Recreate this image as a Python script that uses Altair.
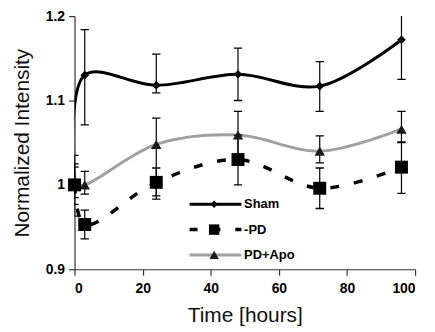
import altair as alt
import pandas as pd

time = [0, 3, 24, 48, 72, 96]

sham = [1.0, 1.13, 1.118, 1.131, 1.117, 1.172]
sham_lo = [0.977, 1.071, 1.109, 1.100, 1.087, 1.125]
sham_hi = [1.025, 1.184, 1.155, 1.162, 1.146, 1.215]

pd_vals = [1.0, 0.953, 1.003, 1.030, 0.996, 1.021]
pd_lo = [0.963, 0.936, 0.983, 1.0, 0.972, 0.990]
pd_hi = [1.021, 0.970, 1.020, 1.059, 1.020, 1.050]

apo = [1.0, 1.0, 1.048, 1.059, 1.040, 1.066]
apo_lo = [0.985, 0.989, 0.987, 1.030, 1.026, 1.051]
apo_hi = [1.035, 1.016, 1.079, 1.087, 1.058, 1.087]

legend_names = ["Sham", "-PD", "PD+Apo"]
legend_y = [0.977, 0.947, 0.917]
legend_x0, legend_xm, legend_x1, legend_xt = 33.8, 41.0, 49.0, 49.8

FONT = "Liberation Sans"


def frame(v, lo, hi):
    return pd.DataFrame({"time": time, "value": v, "lo": lo, "hi": hi})


d_sham = frame(sham, sham_lo, sham_hi)
d_pd = frame(pd_vals, pd_lo, pd_hi)
d_apo = frame(apo, apo_lo, apo_hi)

xs = alt.Scale(domain=[0, 100], nice=False)
ys = alt.Scale(domain=[0.9, 1.2], nice=False)

X = alt.X("time:Q", scale=xs,
          axis=alt.Axis(values=[0, 20, 40, 60, 80, 100], title="Time [hours]"))
Y = alt.Y("value:Q", scale=ys,
          axis=alt.Axis(values=[0.9, 1.0, 1.1, 1.2], format=".1~f",
                        title="Normalized Intensity"))


def line(d, **kw):
    return alt.Chart(d).mark_line(interpolate="catmull-rom", clip=True, **kw).encode(x=X, y=Y)


def errs(d):
    base = alt.Chart(d)
    r = base.mark_rule(color="black", strokeWidth=1.2, clip=True).encode(
        x=alt.X("time:Q", scale=xs), y=alt.Y("lo:Q", scale=ys), y2="hi:Q")
    t1 = base.mark_point(shape="stroke", size=70, strokeWidth=1.3, color="black",
                         clip=True, opacity=1).encode(
        x=alt.X("time:Q", scale=xs), y=alt.Y("lo:Q", scale=ys))
    t2 = base.mark_point(shape="stroke", size=70, strokeWidth=1.3, color="black",
                         clip=True, opacity=1).encode(
        x=alt.X("time:Q", scale=xs), y=alt.Y("hi:Q", scale=ys))
    return r + t1 + t2


def pts(d, shape, size, color="black"):
    return alt.Chart(d).mark_point(shape=shape, size=size, filled=True, color=color,
                                   opacity=1).encode(x=X, y=Y)


layers = [
    line(d_apo, color="#a0a0a0", strokeWidth=3),
    line(d_pd, color="black", strokeWidth=3.5, strokeDash=[9, 15]),
    line(d_sham, color="black", strokeWidth=3),
    errs(d_apo), errs(d_pd), errs(d_sham),
    pts(d_apo, "triangle-up", 110, "#1a1a1a"),
    pts(d_pd, "square", 170),
    pts(d_sham, "diamond", 75),
]

# legend
leg = pd.DataFrame({"name": legend_names, "y": legend_y,
                    "x0": [legend_x0] * 3, "x1": [legend_x1] * 3,
                    "xm": [legend_xm] * 3, "xt": [legend_xt] * 3})
styles = [
    dict(color="black", strokeWidth=3, shape="diamond", size=55, mcolor="black"),
    dict(color="black", strokeWidth=3.5, strokeDash=[8, 15], shape="square", size=110, mcolor="black"),
    dict(color="#a0a0a0", strokeWidth=3, shape="triangle-up", size=90, mcolor="#1a1a1a"),
]
for i, st in enumerate(styles):
    sub = leg.iloc[[i]]
    rk = dict(color=st["color"], strokeWidth=st["strokeWidth"])
    if "strokeDash" in st:
        rk["strokeDash"] = st["strokeDash"]
    layers.append(alt.Chart(sub).mark_rule(**rk).encode(
        x=alt.X("x0:Q", scale=xs), x2="x1:Q", y=alt.Y("y:Q", scale=ys)))
    layers.append(alt.Chart(sub).mark_point(shape=st["shape"], size=st["size"], filled=True,
                                            color=st["mcolor"], opacity=1).encode(
        x=alt.X("xm:Q", scale=xs), y=alt.Y("y:Q", scale=ys)))
    layers.append(alt.Chart(sub).mark_text(align="left", baseline="middle", font=FONT,
                                           fontSize=13, fontWeight="bold", color="black").encode(
        x=alt.X("xt:Q", scale=xs), y=alt.Y("y:Q", scale=ys), text="name:N"))

chart = alt.layer(*layers).properties(
    width=343, height=255,
    autosize=alt.AutoSizeParams(type="none"),
    padding={"left": 67, "top": 7, "right": 12, "bottom": 58},
).configure_view(stroke=None).configure_axis(
    grid=False, domainColor="#333333", domainWidth=1.2, tickColor="#333333", tickWidth=1.2,
    tickSize=6, labelFont=FONT, labelFontSize=14, labelFontWeight="bold", labelColor="black",
    titleFont=FONT, titleFontSize=21, titleFontWeight="normal", titleColor="#111111",
    labelPadding=4,
).configure_axisY(titlePadding=13).configure_axisX(titlePadding=10, labelPadding=6)

chart.save("out.html", embed_options={"renderer": "svg", "actions": False})
